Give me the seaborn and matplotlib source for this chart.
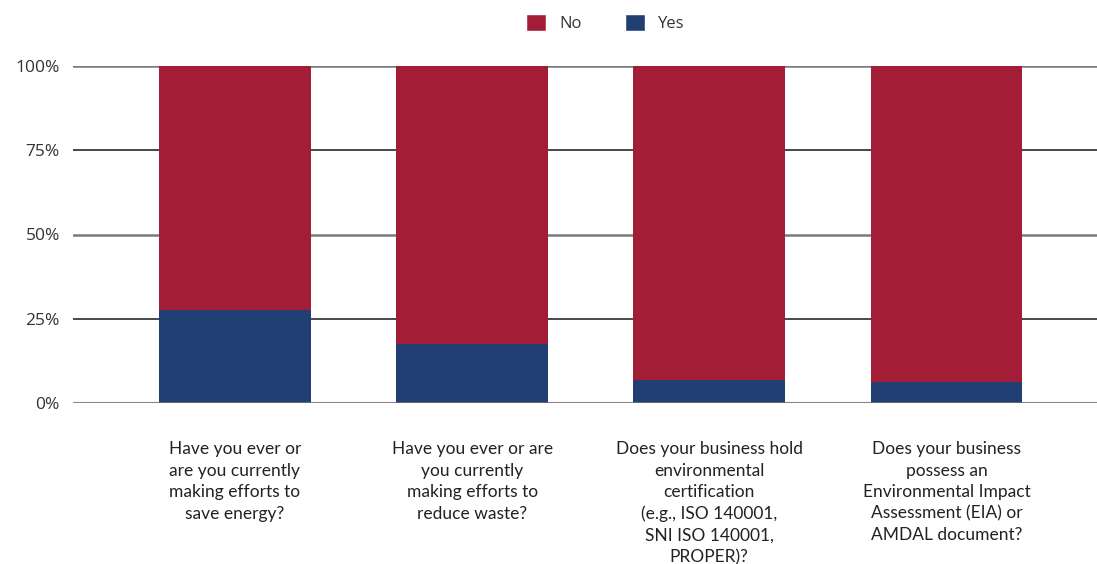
import matplotlib
matplotlib.use("Agg")
import matplotlib.pyplot as plt
import seaborn as sns
import pandas as pd
from matplotlib.patches import Patch

questions = [
    "Have you ever or\nare you currently\nmaking efforts to\nsave energy?",
    "Have you ever or are\nyou currently\nmaking efforts to\nreduce waste?",
    "Does your business hold\nenvironmental\ncertification\n(e.g., ISO 140001,\nSNI ISO 140001,\nPROPER)?",
    "Does your business\npossess an\nEnvironmental Impact\nAssessment (EIA) or\nAMDAL document?",
]
yes_pct = [27.7, 17.6, 6.8, 6.3]
no_pct = [100 - v for v in yes_pct]
series_names = ["No", "Yes"]
y_ticks = [0, 25, 50, 75, 100]
y_tick_labels = ["0%", "25%", "50%", "75%", "100%"]

RED = "#A31D37"
BLUE = "#213F73"
TXT = "#333333"

sns.set_theme(style="white")
plt.rcParams['font.family'] = ['Open Sans', 'DejaVu Sans']

df = pd.DataFrame({"question": questions, "yes": yes_pct,
                   "total": [y + n for y, n in zip(yes_pct, no_pct)]})

fig = plt.figure(figsize=(10.97, 5.64), dpi=100)
ax = fig.add_axes([73/1097, (564-403)/564, 1 - 73/1097, 337/564])

sns.barplot(data=df, x="question", y="total", color=RED, width=0.64,
            saturation=1, ax=ax, zorder=3, linewidth=0)
sns.barplot(data=df, x="question", y="yes", color=BLUE, width=0.64,
            saturation=1, ax=ax, zorder=4, linewidth=0)

ax.set_xlim(-0.683, 3.635)
ax.set_ylim(0, 100)
ax.set_yticks(y_ticks)
ax.set_yticklabels(y_tick_labels, fontsize=12.5, color=TXT)
for y in y_ticks:
    if y in (25, 75):
        ax.axhline(y, color="#3a3a3a", lw=1.3, zorder=2)
    elif y == 0:
        ax.axhline(y, color="#6f6f6f", lw=2.2, zorder=5, alpha=0.85)
    else:
        ax.axhline(y, color="#7a7a7a", lw=1.8, zorder=2)
ax.tick_params(axis="y", length=0, pad=9.5)
ax.tick_params(axis="x", length=0, pad=27.5)
ax.set_xticks(range(len(questions)))
ax.set_xticklabels(questions, fontsize=12.5, color="#222222",
                   family=['Lato', 'DejaVu Sans'],
                   linespacing=1.42, va="top")
ax.set_xlabel("")
ax.set_ylabel("")
for s in ax.spines.values():
    s.set_visible(False)
ax.grid(False)

handles = [Patch(facecolor=RED, label="No"), Patch(facecolor=BLUE, label="Yes")]
fig.legend(handles=handles, labels=series_names, loc="center",
           bbox_to_anchor=(605/1097, 1 - 23/564), ncol=2, frameon=False,
           fontsize=12, handlelength=1.2, handleheight=1.2,
           columnspacing=2.6, handletextpad=0.8, labelcolor=TXT)

fig.savefig("out.png", dpi=100)
